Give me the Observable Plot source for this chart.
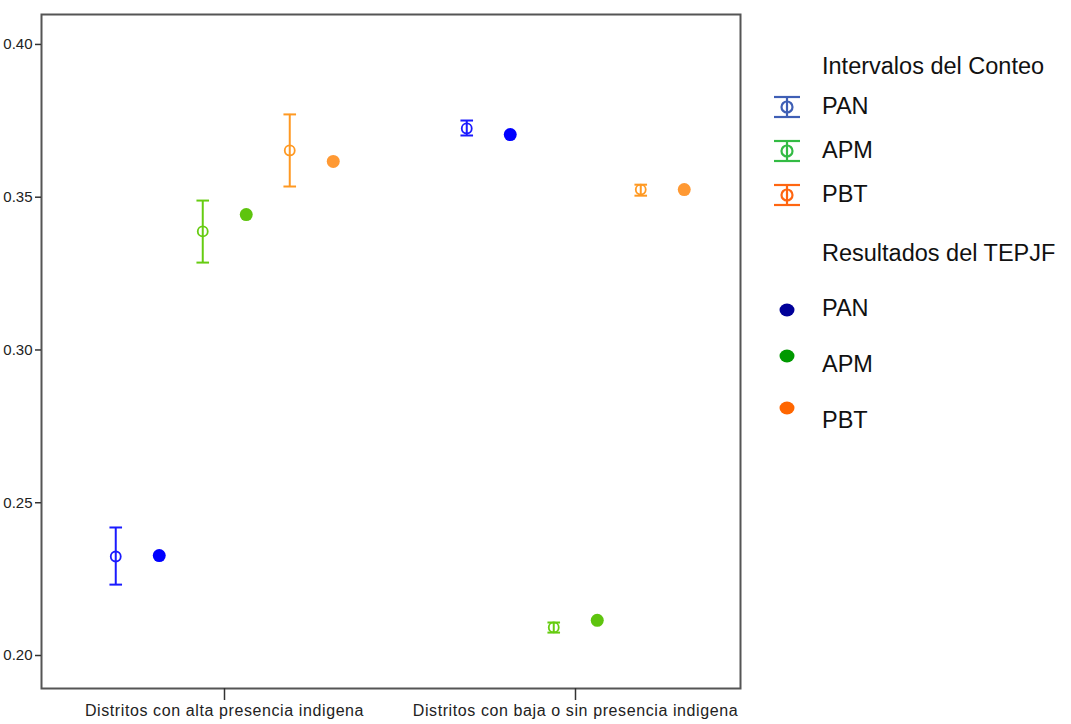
<!DOCTYPE html>
<html>
<head>
<meta charset="utf-8">
<script src="https://cdn.jsdelivr.net/npm/d3@7"></script>
<script src="https://cdn.jsdelivr.net/npm/@observablehq/plot@0.6"></script>
<style>
  body { margin: 0; background: #fff; font-family: "Liberation Sans", Arial, sans-serif; }
  #wrap { position: relative; width: 1071px; height: 724px; }
  #legend { position: absolute; left: 0; top: 0; }
  [aria-label="x-axis tick label"] { font-size: 16px; letter-spacing: 0.6px; }
  [aria-label="y-axis tick label"] { font-size: 15px; }
</style>
</head>
<body>
<div id="wrap">
  <div id="chart"></div>
  <svg id="legend" width="1071" height="724" style="pointer-events:none"></svg>
</div>
<script>
// ---- data ----
const categories = ["Distritos con alta presencia indigena", "Distritos con baja o sin presencia indigena"];
const parties = ["PAN", "APM", "PBT"];
// Intervalos del Conteo (per category: PAN, APM, PBT)
const conteoMean = [[0.2324, 0.3388, 0.3653], [0.3725, 0.2092, 0.3525]];
const conteoLow  = [[0.2232, 0.3286, 0.3535], [0.3702, 0.2075, 0.3505]];
const conteoHigh = [[0.2419, 0.3489, 0.3771], [0.3751, 0.2108, 0.3541]];
// Resultados del TEPJF
const tepjf      = [[0.2327, 0.3443, 0.3617], [0.3705, 0.2115, 0.3525]];
const yTicks = [0.20, 0.25, 0.30, 0.35, 0.40];
const legendTitles = ["Intervalos del Conteo", "Resultados del TEPJF"];

// ---- styles ----
const intervalColor = {PAN: "#1a1aff", APM: "#66cc11", PBT: "#ff9922"};
const dotColor      = {PAN: "#0000ff", APM: "#5ec40e", PBT: "#ff9933"};
const legIntColor   = {PAN: "#3f5fb5", APM: "#33bb44", PBT: "#ff6611"};
const legDotColor   = {PAN: "#000099", APM: "#009900", PBT: "#ff6600"};
const slot = 43.5; // pixel spacing between sub-positions

const rows = [];
categories.forEach((c, ci) => parties.forEach((p, pi) => rows.push({
  cat: c, party: p,
  mean: conteoMean[ci][pi], low: conteoLow[ci][pi], high: conteoHigh[ci][pi],
  tepjf: tepjf[ci][pi]
})));

const capSymbol = {
  draw(ctx, size) { const r = Math.sqrt(size / Math.PI); ctx.moveTo(-r, 0); ctx.lineTo(r, 0); }
};

const marks = [];
parties.forEach((p, pi) => {
  const data = rows.filter(d => d.party === p);
  const dxI = (2 * pi - 2.5) * slot;
  const dxD = (2 * pi + 1 - 2.5) * slot;
  const c = intervalColor[p];
  marks.push(
    Plot.ruleX(data, {x: "cat", y1: "low", y2: "high", dx: dxI, stroke: c, strokeWidth: 2}),
    Plot.dot(data, {x: "cat", y: "low", dx: dxI, symbol: capSymbol, r: 6.3, stroke: c, strokeWidth: 2}),
    Plot.dot(data, {x: "cat", y: "high", dx: dxI, symbol: capSymbol, r: 6.3, stroke: c, strokeWidth: 2}),
    Plot.dot(data, {x: "cat", y: "mean", dx: dxI, r: 5, stroke: c, fill: "none", strokeWidth: 1.8}),
    Plot.dot(data, {x: "cat", y: "tepjf", dx: dxD, r: 6.5, fill: dotColor[p], stroke: "none"})
  );
});

const chart = Plot.plot({
  width: 1071,
  height: 724,
  marginLeft: 41,
  marginRight: 331,
  marginTop: 14,
  marginBottom: 36,
  style: {fontFamily: "'Liberation Sans', Arial, sans-serif", color: "#222", background: "#fff"},
  x: {type: "point", domain: categories, padding: 0.493, align: 0.527, label: null},
  y: {domain: [0.1892, 0.4098], label: null},
  marks: [
    Plot.frame({stroke: "#555", strokeWidth: 2}),
    Plot.axisY({ticks: yTicks, tickFormat: d3.format(".2f"), tickSize: 6, tickPadding: 3, label: null, stroke: "#333", strokeWidth: 1.5}),
    Plot.axisX({tickSize: 12, tickPadding: 4, label: null, stroke: "#333", strokeWidth: 1.5}),
    ...marks
  ]
});
document.getElementById("chart").appendChild(chart);

// ---- legend ----
const leg = d3.select("#legend");
const font = "'Liberation Sans', Arial, sans-serif";
const textX = 822;
function label(txt, y) {
  leg.append("text").attr("x", textX).attr("y", y).attr("dy", "0.35em")
    .attr("font-family", font).attr("font-size", 23.5).attr("fill", "#111").text(txt);
}
label(legendTitles[0], 66);
const intY = [107, 151, 195];
parties.forEach((p, i) => {
  const y = intY[i], c = legIntColor[p], cx = 787;
  const g = leg.append("g").attr("stroke", c).attr("stroke-width", 2.2).attr("fill", "none");
  g.append("line").attr("x1", cx - 13).attr("x2", cx + 13).attr("y1", y - 10).attr("y2", y - 10);
  g.append("line").attr("x1", cx - 13).attr("x2", cx + 13).attr("y1", y + 10).attr("y2", y + 10);
  g.append("line").attr("x1", cx).attr("x2", cx).attr("y1", y - 10).attr("y2", y + 10);
  g.append("circle").attr("cx", cx).attr("cy", y).attr("r", 5.5);
  label(p, y - 1);
});
label(legendTitles[1], 253);
const dotY = [310, 356, 408];
const dotTextY = [308, 364, 420];
parties.forEach((p, i) => {
  leg.append("ellipse").attr("cx", 787).attr("cy", dotY[i]).attr("rx", 7.5).attr("ry", 6.5).attr("fill", legDotColor[p]);
  label(p, dotTextY[i]);
});
</script>
</body>
</html>
